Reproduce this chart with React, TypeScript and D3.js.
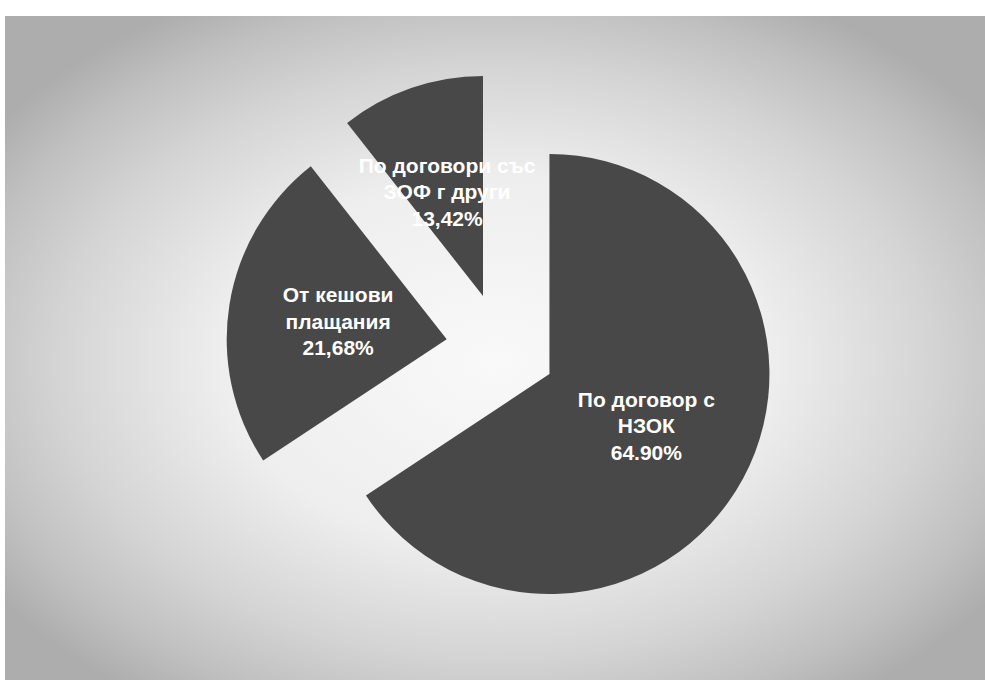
import * as d3 from "d3";
import { useEffect, useRef } from "react";

// slices, in drawing order (clockwise from 12 o'clock)
const categories = ["По договор с НЗОК", "От кешови плащания", "По договори със ЗОФ г други"];
const labelLines = [
    ["По договор с", "НЗОК"],
    ["От кешови", "плащания"],
    ["По договори със", "ЗОФ г други"],
];
const percentLabels = ["64.90%", "21,68%", "13,42%"];
// slice sizes as they are drawn in the picture (%)
const sliceShares = [65.7, 23.7, 10.6];

const width = 985;
const height = 680;
const cx = 501;
const cy = 348;
const radius = 220;
const explode = 55;

export default function App() {
    const svgRef = useRef(null);

    useEffect(() => {
        const svg = d3.select(svgRef.current);
        svg.selectAll("*").remove();

        // background: grey frame with a light glow in the middle
        const defs = svg.append("defs");
        const grad = defs.append("radialGradient")
            .attr("id", "bgGlow")
            .attr("cx", 0.5)
            .attr("cy", 0.52)
            .attr("r", 0.62);
        grad.append("stop").attr("offset", 0).attr("stop-color", "#f9f9f9");
        grad.append("stop").attr("offset", 0.45).attr("stop-color", "#eeeeee");
        grad.append("stop").attr("offset", 0.72).attr("stop-color", "#d4d4d4");
        grad.append("stop").attr("offset", 0.88).attr("stop-color", "#c0c0c0");
        grad.append("stop").attr("offset", 1).attr("stop-color", "#adadad");

        svg.append("rect")
            .attr("width", width)
            .attr("height", height)
            .attr("fill", "#ffffff");

        svg.append("rect")
            .attr("x", 5)
            .attr("y", 16)
            .attr("width", width - 5)
            .attr("height", height - 16)
            .attr("fill", "url(#bgGlow)");

        const pie = d3.pie<number>()
            .sort(null)
            .startAngle(0)
            .endAngle(2 * Math.PI)
            .value(d => d);

        const arc = d3.arc<d3.PieArcDatum<number>>()
            .innerRadius(0)
            .outerRadius(radius);

        const labelArc = d3.arc<d3.PieArcDatum<number>>()
            .innerRadius(110)
            .outerRadius(110);

        const arcs = pie(sliceShares);

        const g = svg.append("g")
            .attr("transform", "translate(" + cx + "," + cy + ")");

        const slices = g.selectAll("g.slice")
            .data(arcs)
            .enter()
            .append("g")
            .attr("class", "slice")
            .attr("transform", d => {
                // pull every slice out along its bisector
                const mid = (d.startAngle + d.endAngle) / 2;
                return "translate(" + (Math.sin(mid) * explode) + "," + (-Math.cos(mid) * explode) + ")";
            });

        slices.append("path")
            .attr("d", arc)
            .attr("fill", "#484848")
            .append("title")
            .text((d, i) => categories[i]);

        const text = slices.append("text")
            .attr("transform", d => "translate(" + labelArc.centroid(d) + ")")
            .attr("text-anchor", "middle")
            .style("font-family", "'Liberation Sans', Arial, sans-serif")
            .style("font-weight", "bold")
            .style("font-size", "21px")
            .style("fill", "#ffffff");

        text.each(function (d, i) {
            const t = d3.select(this);
            const lines = [...labelLines[i], percentLabels[i]];
            lines.forEach((line, k) => {
                t.append("tspan")
                    .attr("x", 0)
                    .attr("y", 7 + (k - 1) * 26.5)
                    .text(line);
            });
        });
    }, []);

    return (
        <svg ref={svgRef} width={width} height={height}
            style={{ position: "absolute", left: 0, top: 0, display: "block" }}>
        </svg>
    );
}
